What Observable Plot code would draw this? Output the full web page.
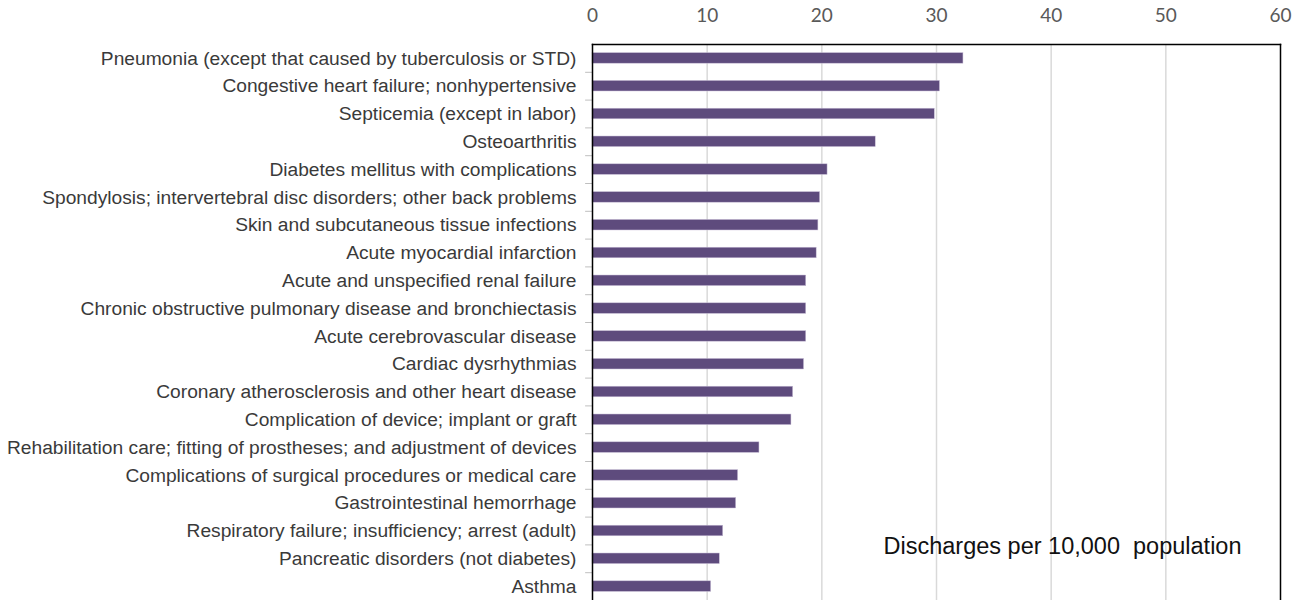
<!DOCTYPE html>
<html>
<head>
<meta charset="utf-8">
<script src="https://cdn.jsdelivr.net/npm/d3@7"></script>
<script src="https://cdn.jsdelivr.net/npm/@observablehq/plot@0.6"></script>
<style>
  html, body { margin: 0; padding: 0; background: #fff; }
  #chart svg { display: block; }
</style>
</head>
<body>
<div id="chart"></div>
<script>
const categories = [
  "Pneumonia (except that caused by tuberculosis or STD)",
  "Congestive heart failure; nonhypertensive",
  "Septicemia (except in labor)",
  "Osteoarthritis",
  "Diabetes mellitus with complications",
  "Spondylosis; intervertebral disc disorders; other back problems",
  "Skin and subcutaneous tissue infections",
  "Acute myocardial infarction",
  "Acute and unspecified renal failure",
  "Chronic obstructive pulmonary disease and bronchiectasis",
  "Acute cerebrovascular disease",
  "Cardiac dysrhythmias",
  "Coronary atherosclerosis and other heart disease",
  "Complication of device; implant or graft",
  "Rehabilitation care; fitting of prostheses; and adjustment of devices",
  "Complications of surgical procedures or medical care",
  "Gastrointestinal hemorrhage",
  "Respiratory failure; insufficiency; arrest (adult)",
  "Pancreatic disorders (not diabetes)",
  "Asthma"
];
const values = [32.35, 30.3, 29.85, 24.7, 20.5, 19.85, 19.7, 19.55, 18.64, 18.64,
                18.64, 18.45, 17.5, 17.35, 14.56, 12.7, 12.53, 11.4, 11.1, 10.35];
const xTicks = [0, 10, 20, 30, 40, 50, 60];
const annotation = ["Discharges per 10,000  population"];

const data = categories.map((c, i) => ({category: c, value: values[i]}));

const chart = Plot.plot({
  width: 1309,
  height: 600,
  marginLeft: 592,
  marginRight: 29,
  marginTop: 44,
  marginBottom: 0,
  style: {fontFamily: "'Liberation Sans', Arial, sans-serif", background: "#fff"},
  x: {domain: [0, 60], ticks: xTicks, label: null},
  y: {domain: categories, paddingInner: 0.62, paddingOuter: 0.31, round: false, label: null},
  marks: [
    Plot.gridX(xTicks.slice(1, -1), {stroke: "#d9d9d9", strokeOpacity: 1, strokeWidth: 1.5}),
    Plot.axisX(xTicks, {anchor: "top", tickSize: 0, tickPadding: 23, fontSize: 19, label: null,
      fontFamily: "Lato, 'Open Sans', sans-serif", fill: "#595959"}),
    Plot.axisY({tickSize: 0, tickPadding: 16, fontSize: 19.2, fill: "#3a3a3a", label: null,
      fontFamily: "'Liberation Sans', Arial, sans-serif"}),
    Plot.ruleY(categories, {y: d => d, x1: -0.6, x2: 0, dy: 13.9, stroke: "#bfbfbf", clip: false}),
    Plot.barX(data, {y: "category", x: "value", fill: "#5E4B7D", stroke: "#c9bfd8", strokeWidth: 0.5}),
    Plot.frame({anchor: "left", stroke: "#000", strokeWidth: 1.5}),
    Plot.frame({anchor: "top", stroke: "#000", strokeWidth: 1.5}),
    Plot.frame({anchor: "right", stroke: "#000", strokeWidth: 1.5}),
    Plot.text(annotation, {text: d => d, frameAnchor: "bottom-right", textAnchor: "end",
      lineAnchor: "bottom", dx: -39, dy: -47, fontSize: 23.5, fill: "#111",
      fontFamily: "'Liberation Sans', Arial, sans-serif"})
  ]
});
document.getElementById("chart").appendChild(chart);
</script>
</body>
</html>
